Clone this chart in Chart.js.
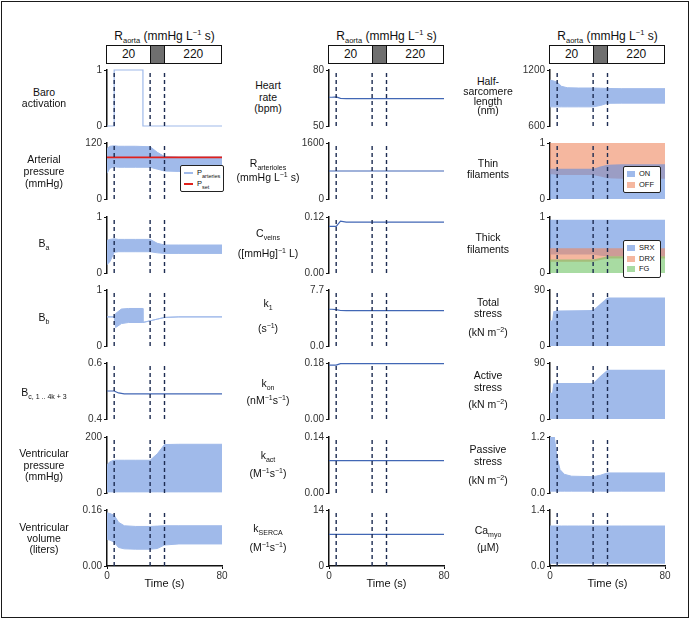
<!DOCTYPE html>
<html>
<head>
<meta charset="utf-8">
<script src="https://cdn.jsdelivr.net/npm/chart.js@4.4.0/dist/chart.umd.min.js"></script>
<style>
  body { margin: 0; background: #fff; font-family: "Liberation Sans", Arial, sans-serif; color: #111; }
  #fig { position: relative; width: 691px; height: 619px; overflow: hidden; }
  #frame { position: absolute; left: 1px; top: 1px; width: 688px; height: 617px; border: 1.5px solid #1a1a1a; box-sizing: border-box; }
  canvas { position: absolute; }
  .lab { position: absolute; transform: translate(-50%, -50%); text-align: center; font-size: 10.5px; line-height: 12px; white-space: nowrap; }
  .lab sub, .lab sup { font-size: 7px; line-height: 0; }
  .ttl { position: absolute; transform: translate(-50%, -50%); font-size: 12px; white-space: nowrap; }
  .ttl sub, .ttl sup { font-size: 7.5px; line-height: 0; }
  .box { position: absolute; height: 19px; border: 1px solid #111; box-sizing: border-box; }
  .seg { position: absolute; top: 0; bottom: 0; font-size: 12px; line-height: 17px; text-align: center; }
  .leg { position: absolute; border: 1px solid #222; border-radius: 2px; background: #fff; font-size: 7.5px; box-sizing: border-box; padding: 2px 3px; }
  .leg div { height: 10.5px; line-height: 10.5px; white-space: nowrap; }
  .leg i { display: inline-block; vertical-align: middle; margin-right: 4px; }
  .leg sub { font-size: 5.5px; line-height: 0; }
</style>
</head>
<body>
<div id="fig"><div id="frame"></div></div>
<script>
// time grid (s) shared by most traces
const time = [0, 2, 5, 8, 12, 20, 30, 35, 40, 50, 80];
const eventTimes = [5, 30, 40];
const rAortaBreaks = [0, 30, 40, 80];
const rAortaValues = ['20', null, '220'];

// column 1
const baroTime = [0, 5, 25, 80];
const baroVal = [0, 1, 0, 0];
const arterialHigh = [108, 113, 114, 113, 113, 113, 112, 100, 91, 90, 90];
const arterialLow = [55, 66, 69, 68, 68, 68, 68, 64, 60, 59, 59];
const pSet = [89, 89, 89, 89, 89, 89, 89, 89, 89, 89, 89];
const baHigh = [0.58, 0.6, 0.61, 0.6, 0.6, 0.6, 0.6, 0.53, 0.5, 0.5, 0.5];
const baLow = [0.15, 0.2, 0.37, 0.38, 0.38, 0.38, 0.38, 0.36, 0.35, 0.35, 0.35];
const bbTime = [0, 5, 6, 10, 15, 24.9, 25, 30, 35, 40, 50, 80];
const bbHigh = [0.52, 0.52, 0.58, 0.66, 0.67, 0.67, 0.42, 0.45, 0.48, 0.51, 0.52, 0.52];
const bbLow = [0.52, 0.52, 0.33, 0.4, 0.42, 0.42, 0.42, 0.45, 0.48, 0.51, 0.52, 0.52];
const bcVal = [0.5, 0.5, 0.5, 0.493, 0.49, 0.49, 0.49, 0.49, 0.49, 0.49, 0.49];
const vpHigh = [100, 112, 117, 117, 117, 117, 117, 140, 173, 174, 174];
const vpLow = [4, 4, 4, 4, 4, 4, 4, 4, 4, 4, 4];
const vvHigh = [0.152, 0.15, 0.145, 0.125, 0.115, 0.113, 0.113, 0.114, 0.115, 0.115, 0.115];
const vvLow = [0.076, 0.074, 0.068, 0.053, 0.049, 0.048, 0.048, 0.05, 0.06, 0.063, 0.063];

// column 2
const heartRate = [65.4, 65.4, 65.6, 64.8, 64.7, 64.7, 64.7, 64.7, 64.7, 64.7, 64.7];
const rArterioles = [800, 800, 800, 800, 800, 800, 800, 800, 800, 800, 800];
const cVeins = [0.1, 0.1, 0.1, 0.111, 0.109, 0.109, 0.109, 0.109, 0.109, 0.109, 0.109];
const k1 = [5.05, 5.05, 5.0, 4.88, 4.86, 4.86, 4.86, 4.86, 4.86, 4.86, 4.86];
const kOn = [0.173, 0.173, 0.173, 0.178, 0.178, 0.178, 0.178, 0.178, 0.178, 0.178, 0.178];
const kAct = [0.081, 0.081, 0.081, 0.081, 0.081, 0.081, 0.081, 0.081, 0.081, 0.081, 0.081];
const kSerca = [7.9, 7.9, 7.9, 7.9, 7.9, 7.9, 7.9, 7.9, 7.9, 7.9, 7.9];

// column 3
const hslHigh = [1092, 1085, 1070, 1025, 1010, 1007, 1007, 1005, 1002, 1000, 1000];
const hslLow = [805, 805, 805, 805, 805, 805, 805, 820, 843, 845, 845];
const thinOnHigh = [0.54, 0.54, 0.54, 0.54, 0.54, 0.54, 0.54, 0.58, 0.61, 0.62, 0.62];
const thinOnLow = [0.44, 0.44, 0.43, 0.43, 0.43, 0.43, 0.43, 0.4, 0.37, 0.36, 0.36];
const srxHigh = [0.95, 0.95, 0.95, 0.95, 0.95, 0.95, 0.95, 0.95, 0.95, 0.95, 0.95];
const srxLow = [0.33, 0.33, 0.33, 0.33, 0.33, 0.33, 0.33, 0.31, 0.3, 0.3, 0.3];
const drxHigh = [0.44, 0.44, 0.44, 0.44, 0.44, 0.44, 0.44, 0.44, 0.44, 0.44, 0.44];
const drxLow = [0.2, 0.2, 0.2, 0.2, 0.2, 0.2, 0.2, 0.23, 0.26, 0.26, 0.26];
const fgHigh = [0.24, 0.24, 0.24, 0.24, 0.24, 0.24, 0.24, 0.27, 0.3, 0.3, 0.3];
const stressTime = [0, 1.5, 2.3, 5, 30, 35, 40, 50, 80];
const totalHigh = [41, 41, 56, 57, 58, 68, 78, 78, 78];
const activeHigh = [42, 42, 57, 58, 58, 69, 79, 79, 79];
const passiveTime = [0, 3, 5, 7, 10, 15, 30, 35, 40, 50, 80];
const passiveHigh = [1.2, 1.2, 0.75, 0.5, 0.4, 0.36, 0.35, 0.38, 0.43, 0.43, 0.43];
const passiveLow = [0.04, 0.04, 0.04, 0.04, 0.04, 0.04, 0.04, 0.04, 0.04, 0.04, 0.04];
const caHigh = [1.0, 1.0, 1.0, 1.0, 1.0, 1.0, 1.0, 1.0, 1.0, 1.0, 1.0];
const caLow = [0.07, 0.07, 0.07, 0.07, 0.07, 0.07, 0.07, 0.07, 0.07, 0.07, 0.07];

// layout
const cols = [107, 329, 550];
const labelX = [44, 268, 488];
const rowTops = [70, 143, 217, 290, 363, 437, 510];
const plotW = 115, plotH = 56;

const BAND = '#a0baea';
const LINE = '#4267b5';
const RED = '#e0201b';
const DASH = '#1d2c52';
const ON = 'rgba(95,140,222,0.6)';
const OFF = 'rgba(238,135,95,0.6)';
const FG = 'rgba(110,195,100,0.6)';
const MINUS = '&minus;';

const pts = (t, v) => t.map((x, i) => ({ x: x, y: v[i] }));

function line(t, v, color, width, stepped) {
  return { data: pts(t, v), borderColor: color, borderWidth: width || 1.2, fill: false, stepped: stepped || false, clip: 3 };
}
function band(t, hi, lo, color) {
  return [
    { data: pts(t, hi), borderColor: color, borderWidth: 1, backgroundColor: color, fill: false },
    { data: pts(t, lo), borderColor: color, borderWidth: 1, backgroundColor: color, fill: '-1' }
  ];
}
function area(t, v, color, target) {
  return { data: pts(t, v), borderColor: 'rgba(0,0,0,0)', borderWidth: 0.01, backgroundColor: color, fill: target };
}

// label lines and their offsets from the row centre
const panels = [
  { c: 0, r: 0, min: 0, max: 1, dec: 0, label: ['Baro', 'activation'], ly: [-6, 5], sets: [line(baroTime, baroVal, BAND, 1.2, true)] },
  { c: 0, r: 1, min: 0, max: 120, dec: 0, label: ['Arterial', 'pressure', '(mmHg)'], ly: [-12.5, 0, 11.7], sets: [line(time, pSet, RED, 1.8), ...band(time, arterialHigh, arterialLow, BAND)] },
  { c: 0, r: 2, min: 0, max: 1, dec: 0, label: ['B<sub>a</sub>'], ly: [-2], sets: band(time, baHigh, baLow, BAND) },
  { c: 0, r: 3, min: 0, max: 1, dec: 0, label: ['B<sub>b</sub>'], ly: [-1.5], sets: band(bbTime, bbHigh, bbLow, BAND) },
  { c: 0, r: 4, min: 0.4, max: 0.6, dec: 1, label: ['B<sub>c, 1 .. 4k + 3</sub>'], ly: [0.5], sets: [line(time, bcVal, LINE)] },
  { c: 0, r: 5, min: 0, max: 200, dec: 0, label: ['Ventricular', 'pressure', '(mmHg)'], ly: [-12, -0.5, 11], sets: band(time, vpHigh, vpLow, BAND) },
  { c: 0, r: 6, min: 0, max: 0.16, dec: 2, label: ['Ventricular', 'volume', '(liters)'], ly: [-11.3, -0.3, 11], sets: band(time, vvHigh, vvLow, BAND) },

  { c: 1, r: 0, min: 50, max: 80, dec: 0, label: ['Heart', 'rate', '(bpm)'], ly: [-13, -1.3, 10.3], sets: [line(time, heartRate, LINE)] },
  { c: 1, r: 1, min: 0, max: 1600, dec: 0, label: ['R<sub>arterioles</sub>', '(mmHg L<sup>' + MINUS + '1</sup> s)'], ly: [-7.7, 5.7], sets: [line(time, rArterioles, LINE)] },
  { c: 1, r: 2, min: 0, max: 0.12, dec: 2, label: ['C<sub>veins</sub>', '([mmHg]<sup>' + MINUS + '1</sup> L)'], ly: [-11.7, 8.3], sets: [line(time, cVeins, LINE)] },
  { c: 1, r: 3, min: 0, max: 7.7, dec: 1, label: ['k<sub>1</sub>', '(s<sup>' + MINUS + '1</sup>)'], ly: [-15, 9.7], sets: [line(time, k1, LINE)] },
  { c: 1, r: 4, min: 0, max: 0.18, dec: 2, label: ['k<sub>on</sub>', '(nM<sup>' + MINUS + '1</sup>s<sup>' + MINUS + '1</sup>)'], ly: [-8.3, 9], sets: [line(time, kOn, LINE)] },
  { c: 1, r: 5, min: 0, max: 0.14, dec: 2, label: ['k<sub>act</sub>', '(M<sup>' + MINUS + '1</sup>s<sup>' + MINUS + '1</sup>)'], ly: [-10, 7.7], sets: [line(time, kAct, LINE)] },
  { c: 1, r: 6, min: 0, max: 14, dec: 0, label: ['k<sub>SERCA</sub>', '(M<sup>' + MINUS + '1</sup>s<sup>' + MINUS + '1</sup>)'], ly: [-10, 8.7], sets: [line(time, kSerca, LINE)] },

  { c: 2, r: 0, min: 600, max: 1200, dec: 0, label: ['Half-', 'sarcomere', 'length', '(nm)'], ly: [-17.5, -7, 2.5, 11.5], sets: band(time, hslHigh, hslLow, BAND) },
  { c: 2, r: 1, min: 0, max: 1, dec: 0, label: ['Thin', 'filaments'], ly: [-7.7, 3], sets: [area(time, thinOnHigh, ON, 'origin'), area(time, thinOnLow, OFF, { value: 1 })] },
  { c: 2, r: 2, min: 0, max: 1, dec: 0, label: ['Thick', 'filaments'], ly: [-7.7, 4.3], sets: [area(time, fgHigh, FG, 'origin'), area(time, drxHigh, 'rgba(0,0,0,0)', false), area(time, drxLow, OFF, '-1'), area(time, srxHigh, 'rgba(0,0,0,0)', false), area(time, srxLow, ON, '-1')] },
  { c: 2, r: 3, min: 0, max: 90, dec: 0, label: ['Total', 'stress', '(kN m<sup>' + MINUS + '2</sup>)'], ly: [-16.3, -4.7, 13.5], sets: [area(stressTime, totalHigh, BAND, 'origin')] },
  { c: 2, r: 4, min: 0, max: 90, dec: 0, label: ['Active', 'stress', '(kN m<sup>' + MINUS + '2</sup>)'], ly: [-16, -4.3, 13], sets: [area(stressTime, activeHigh, BAND, 'origin')] },
  { c: 2, r: 5, min: 0, max: 1.2, dec: 1, label: ['Passive', 'stress', '(kN m<sup>' + MINUS + '2</sup>)'], ly: [-15.7, -4, 14.5], sets: band(passiveTime, passiveHigh, passiveLow, BAND) },
  { c: 2, r: 6, min: 0, max: 1.4, dec: 1, label: ['Ca<sub>myo</sub>', '(&micro;M)'], ly: [-8, 8.7], sets: band(time, caHigh, caLow, BAND) }
];

const fig = document.getElementById('fig');
const xpix = (c, t) => cols[c] + t * plotW / 80;

function addDiv(cls, html, css) {
  const d = document.createElement('div');
  d.className = cls;
  d.innerHTML = html;
  Object.assign(d.style, css);
  fig.appendChild(d);
  return d;
}

// R_aorta header over each column
cols.forEach((x0, c) => {
  addDiv('ttl', 'R<sub>aorta</sub> (mmHg L<sup>' + MINUS + '1</sup> s)', { left: (x0 + plotW / 2) + 'px', top: '36px' });
  const box = addDiv('box', '', { left: (x0 - 1) + 'px', top: '45px', width: (plotW + 1) + 'px' });
  rAortaValues.forEach((v, i) => {
    const a = xpix(c, rAortaBreaks[i]) - x0, b = xpix(c, rAortaBreaks[i + 1]) - x0;
    const s = document.createElement('div');
    s.className = 'seg';
    s.style.left = a + 'px';
    s.style.width = (b - a) + 'px';
    if (v === null) { s.style.background = '#6f6f6f'; s.style.borderLeft = '1px solid #111'; s.style.borderRight = '1px solid #111'; s.style.boxSizing = 'border-box'; }
    else s.textContent = v;
    box.appendChild(s);
  });
});

panels.forEach(p => {
  const bottom = p.r === 6;
  const W = 44 + plotW + 8, H = bottom ? 8 + plotH + 25 : 8 + plotH + 8;
  const cv = document.createElement('canvas');
  cv.width = W; cv.height = H;
  cv.style.left = (cols[p.c] - 44) + 'px';
  cv.style.top = (rowTops[p.r] - 8) + 'px';
  fig.appendChild(cv);

  const dashes = eventTimes.map(t => ({
    data: [{ x: t, y: p.min }, { x: t, y: p.max }],
    borderColor: DASH, borderWidth: 1.4, borderDash: [4, 3], fill: false, order: -1, clip: 3
  }));

  new Chart(cv, {
    type: 'line',
    data: { datasets: [...p.sets, ...dashes] },
    options: {
      responsive: false,
      animation: false,
      layout: { padding: { left: 0, right: 8, top: 8, bottom: bottom ? 0 : 8 } },
      plugins: { legend: { display: false }, tooltip: { enabled: false } },
      elements: { point: { radius: 0 }, line: { tension: 0 } },
      scales: {
        x: {
          type: 'linear', min: 0, max: 80, display: bottom,
          afterFit: s => { if (bottom) s.height = 25; },
          afterBuildTicks: s => { s.ticks = [{ value: 0 }, { value: 80 }]; },
          ticks: { font: { size: 10, family: 'Liberation Sans' }, color: '#333', padding: 1, maxRotation: 0 },
          grid: { display: true, drawOnChartArea: false, tickLength: 3, color: '#111' },
          border: { display: true, color: '#111', width: 1.5 },
          title: { display: true, text: 'Time (s)', font: { size: 11, family: 'Liberation Sans' }, color: '#111', padding: { top: 0, bottom: 0 } }
        },
        y: {
          min: p.min, max: p.max,
          afterFit: s => { s.width = 44; },
          afterBuildTicks: s => { s.ticks = [{ value: p.min }, { value: p.max }]; },
          ticks: { callback: v => Number(v).toFixed(p.dec), font: { size: 10, family: 'Liberation Sans' }, color: '#333', padding: 2 },
          grid: { display: true, drawOnChartArea: false, tickLength: 3, color: '#111' },
          border: { display: true, color: '#111', width: 1.5 }
        }
      }
    }
  });

  p.label.forEach((txt, i) => {
    addDiv('lab', txt, { left: labelX[p.c] + 'px', top: (rowTops[p.r] + plotH / 2 + p.ly[i]) + 'px' });
  });
});

// legends inside plots
function legend(x, y, w, rows) {
  addDiv('leg', rows.map(r => '<div><i style="' + r[0] + '"></i>' + r[1] + '</div>').join(''), { left: x + 'px', top: y + 'px', width: w + 'px' });
}
legend(180, 165, 44, [
  ['width:9px;height:1.5px;background:' + BAND, 'P<sub>arteries</sub>'],
  ['width:9px;height:2px;background:' + RED, 'P<sub>set</sub>']
]);
legend(623, 166, 38, [
  ['width:8px;height:6px;background:' + ON, 'ON'],
  ['width:8px;height:6px;background:' + OFF, 'OFF']
]);
legend(623, 240, 38, [
  ['width:8px;height:6px;background:' + ON, 'SRX'],
  ['width:8px;height:6px;background:' + OFF, 'DRX'],
  ['width:8px;height:6px;background:' + FG, 'FG']
]);
</script>
</body>
</html>
